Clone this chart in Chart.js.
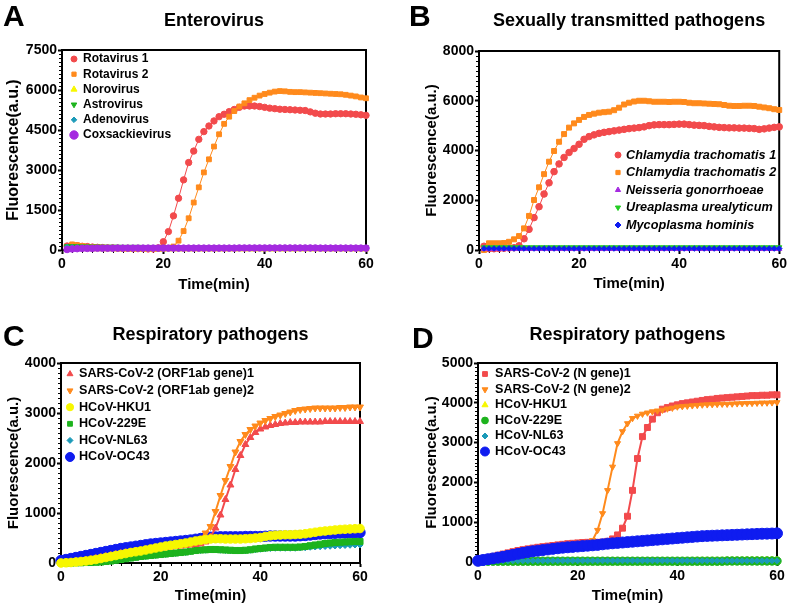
<!DOCTYPE html>
<html><head><meta charset="utf-8">
<script src="https://cdn.jsdelivr.net/npm/chart.js@4.4.1/dist/chart.umd.min.js"></script>
<style>
html,body{margin:0;padding:0;background:#fff;}
#wrap{position:relative;width:789px;height:606px;overflow:hidden;background:#fff;}
canvas{position:absolute;}
.lbl{position:absolute;font:bold 30px 'Liberation Sans',Arial,sans-serif;line-height:30px;color:#000;}
</style></head><body>
<div id="wrap">
<canvas id="cA" width="394" height="303" style="left:0px;top:0px"></canvas>
<canvas id="cB" width="394" height="303" style="left:395px;top:0px"></canvas>
<canvas id="cC" width="394" height="303" style="left:0px;top:303px"></canvas>
<canvas id="cD" width="394" height="303" style="left:395px;top:303px"></canvas>
<div class="lbl" style="left:3px;top:1px">A</div>
<div class="lbl" style="left:409px;top:1px">B</div>
<div class="lbl" style="left:3px;top:321px">C</div>
<div class="lbl" style="left:412px;top:323px">D</div>
</div>
<script>
// ---------- time axes ----------
const time1to60 = [1,2,3,4,5,6,7,8,9,10,11,12,13,14,15,16,17,18,19,20,21,22,23,24,25,26,27,28,29,30,31,32,33,34,35,36,37,38,39,40,41,42,43,44,45,46,47,48,49,50,51,52,53,54,55,56,57,58,59,60];
const time0to60 = [0,1,2,3,4,5,6,7,8,9,10,11,12,13,14,15,16,17,18,19,20,21,22,23,24,25,26,27,28,29,30,31,32,33,34,35,36,37,38,39,40,41,42,43,44,45,46,47,48,49,50,51,52,53,54,55,56,57,58,59,60];
const xTicks = [0, 20, 40, 60];

// ---------- Panel A: Enterovirus ----------
const labelsA = ['Rotavirus 1','Rotavirus 2','Norovirus','Astrovirus','Adenovirus','Coxsackievirus'];
const rotavirus1A = [150,170,160,140,130,110,100,90,80,80, 70,60,60,50,50,50,40,40,80,310, 690,1280,1940,2630,3280,3710,4150,4440,4650,4840, 5000,5090,5190,5270,5350,5400,5400,5400,5380,5350, 5320,5300,5280,5270,5260,5250,5240,5230,5180,5130, 5100,5100,5100,5110,5110,5110,5100,5090,5070,5050];
const rotavirus2A = [50,210,180,150,120,110,100,90,80,70, 60,60,50,50,50,40,40,40,40,50, 70,130,350,710,1190,1780,2350,2910,3400,3880, 4340,4730,5000,5210,5380,5500,5620,5710,5790,5850, 5900,5940,5960,5950,5930,5920,5920,5910,5900,5890, 5880,5870,5860,5850,5840,5820,5790,5760,5720,5690];
const norovirusA = [90,70,50,40,40,35,35,30,30,30, 30,30,30,30,30,30,30,30,30,30, 30,30,30,30,30,30,30,30,30,30, 30,30,30,30,30,30,30,30,30,30, 30,30,30,30,30,30,30,30,30,30, 30,30,30,30,30,30,30,30,30,30];
const astrovirusA = [140,140,135,130,130,125,125,120,120,120, 120,115,115,115,115,110,110,110,110,110, 110,110,105,105,105,105,105,105,105,105, 100,100,100,100,100,100,100,100,100,100, 100,100,100,100,100,100,100,100,100,100, 95,95,95,95,95,95,95,95,95,95];
const adenovirusA = [110,100,95,90,90,85,85,80,80,80, 80,80,75,75,75,75,75,75,75,75, 75,75,70,70,70,70,70,70,70,70, 70,70,70,70,70,70,70,70,70,70, 70,70,70,70,70,70,70,70,70,70, 70,70,70,70,70,70,70,70,70,70];
const coxsackieA = [20,40,50,60,60,60,65,65,65,65, 70,70,70,70,70,70,70,70,70,70, 70,70,70,70,70,70,70,70,70,70, 70,70,70,70,75,75,75,75,75,75, 75,75,75,75,75,75,75,75,75,75, 70,70,70,70,70,70,70,70,70,70];
const yTicksA = [0,1500,3000,4500,6000,7500];

// ---------- Panel B: Sexually transmitted pathogens ----------
const labelsB = ['Chlamydia trachomatis 1','Chlamydia trachomatis 2','Neisseria gonorrhoeae','Ureaplasma urealyticum','Mycoplasma hominis'];
const chlamydia1B = [150,50,50,60,70,80,90,170,450,830, 1300,1740,2250,2700,3150,3460,3720,3920,4080,4250, 4450,4560,4630,4690,4730,4760,4790,4820,4850,4880, 4900,4920,4950,5000,5030,5040,5040,5040,5050,5060, 5060,5040,5020,5010,5000,4970,4950,4930,4920,4910, 4910,4900,4900,4890,4880,4850,4870,4900,4930,4950];
const chlamydia2B = [0,270,270,270,280,330,430,560,870,1370, 2010,2520,3050,3550,3980,4350,4660,4920,5090,5230, 5350,5430,5480,5520,5540,5560,5620,5720,5850,5920, 5970,6000,6000,5980,5960,5960,5960,5950,5960,5960, 5950,5920,5900,5900,5890,5880,5870,5860,5830,5800, 5790,5790,5800,5800,5790,5760,5730,5700,5660,5630];
const neisseriaB = [40,40,40,40,40,40,40,40,40,40, 40,40,40,40,40,40,40,40,40,40, 40,40,40,40,40,40,40,40,40,40, 40,40,40,40,40,40,40,40,40,40, 40,40,40,40,40,40,40,40,40,40, 40,40,40,40,40,40,40,40,40,40];
const ureaplasmaB = [110,110,110,110,110,110,110,110,110,110, 110,110,110,110,110,110,110,110,110,110, 110,110,110,110,110,110,110,110,110,110, 110,110,110,110,110,110,110,110,110,110, 110,110,110,110,110,110,110,110,110,110, 110,110,110,110,110,110,110,110,110,110];
const mycoplasmaB = [60,60,60,60,60,60,60,60,60,60, 60,60,60,60,60,60,60,60,60,60, 60,60,60,60,60,60,60,60,60,60, 60,60,60,60,60,60,60,60,60,60, 60,60,60,60,60,60,60,60,60,60, 60,60,60,60,60,60,60,60,60,60];
const yTicksB = [0,2000,4000,6000,8000];

// ---------- Panel C: Respiratory pathogens (ORF1ab) ----------
const labelsC = ['SARS-CoV-2 (ORF1ab gene)1','SARS-CoV-2 (ORF1ab gene)2','HCoV-HKU1','HCoV-229E','HCoV-NL63','HCoV-OC43'];
const orf1C = [0,10,20,30,40,55,70,90,110,130, 150,170,190,205,220,235,250,265,280,290, 300,310,320,330,340,350,360,370,385,420, 520,700,960,1270,1560,1870,2150,2370,2510,2610, 2680,2720,2750,2770,2790,2800,2810,2810,2820,2820, 2820,2820,2820,2830,2830,2830,2830,2830,2830,2830, 2830];
const orf2C = [0,10,20,30,40,55,70,90,110,130, 150,170,190,210,225,240,255,270,285,300, 315,330,345,360,375,390,410,430,480,600, 730,1030,1350,1650,1930,2220,2430,2570,2670,2740, 2800,2850,2890,2930,2960,2990,3020,3050,3070,3080, 3090,3100,3100,3100,3100,3100,3110,3110,3120,3120, 3120];
const hku1C = [0,5,10,20,30,40,55,70,90,110, 130,150,170,190,210,225,240,260,280,300, 320,340,355,370,385,400,420,440,455,470, 480,485,485,480,480,480,480,485,490,500, 510,530,545,555,560,565,565,570,575,585, 600,615,630,640,650,660,670,675,680,685, 690];
const e229C = [0,0,0,5,5,10,10,15,20,30, 40,55,70,85,100,115,130,140,150,160, 170,180,190,200,210,220,235,250,260,265, 270,270,265,260,255,250,250,255,265,280, 290,300,310,315,315,315,315,315,320,330, 345,360,375,390,400,410,415,420,425,430, 430];
const nl63C = [0,0,0,5,5,10,10,15,20,25, 35,50,65,80,95,110,120,130,140,150, 160,170,180,190,200,210,225,240,250,255, 260,260,255,250,245,240,240,245,255,265, 275,285,290,295,295,295,295,295,300,305, 315,320,325,330,335,340,345,350,355,360, 360];
const oc43C = [50,70,90,110,130,150,170,190,210,230, 250,270,290,305,320,335,350,365,380,390, 400,410,420,430,440,450,460,475,490,505, 515,520,525,525,525,525,525,530,530,530, 530,535,540,540,540,540,540,540,545,550, 560,570,580,585,590,595,600,600,605,605, 610];
const yTicksC = [0,1000,2000,3000,4000];

// ---------- Panel D: Respiratory pathogens (N gene) ----------
const labelsD = ['SARS-CoV-2 (N gene)1','SARS-CoV-2 (N gene)2','HCoV-HKU1','HCoV-229E','HCoV-NL63','HCoV-OC43'];
const n1D = [50,80,110,140,170,200,230,260,290,310, 330,350,370,385,400,415,430,445,460,470, 480,490,495,495,495,500,520,580,680,850, 1150,1800,2600,3150,3380,3590,3750,3840,3880,3920, 3950,3980,4000,4020,4040,4060,4080,4090,4110,4120, 4130,4140,4150,4160,4170,4180,4180,4190,4190,4200, 4200];
const n2D = [0,20,40,60,80,100,125,150,175,200, 225,245,265,285,300,315,330,345,360,370, 380,390,420,545,800,1220,1800,2390,2980,3280, 3480,3610,3670,3720,3750,3780,3800,3820,3850,3870, 3900,3910,3920,3930,3940,3950,3955,3960,3965,3970, 3970,3975,3980,3985,3990,3990,3995,4000,4000,4005, 4010];
const hku1D = [30,30,35,35,35,40,40,40,40,40, 40,40,40,40,40,40,40,40,40,40, 40,40,40,40,40,40,40,40,40,40, 40,40,40,40,40,40,40,40,40,40, 40,40,40,40,45,45,45,45,45,45, 50,50,50,50,55,55,55,55,60,60, 60];
const e229D = [20,20,20,20,20,20,20,20,20,20, 20,20,20,20,20,20,20,20,20,20, 20,20,20,20,20,20,20,20,20,20, 20,20,20,20,20,20,20,20,20,20, 20,20,20,20,20,20,20,20,20,20, 25,25,25,25,25,25,25,25,25,25, 25];
const nl63D = [30,30,30,30,30,30,30,30,30,30, 30,30,30,30,30,30,30,30,30,30, 30,30,30,30,30,30,30,30,30,30, 30,30,30,30,30,30,30,30,30,30, 30,30,30,30,30,30,30,30,30,30, 30,30,30,30,30,30,30,30,30,30, 30];
const oc43D = [30,50,70,90,110,130,155,180,205,230, 250,270,285,300,315,330,345,360,370,380, 390,400,410,420,430,445,460,470,480,490, 500,510,520,530,540,550,560,570,580,590, 600,610,620,630,640,650,655,660,665,670, 675,680,685,690,695,700,705,710,712,715, 720];
const yTicksD = [0,1000,2000,3000,4000,5000];

// ---------- colours ----------
const RED='#f24a4c', ORANGE='#ff8a1c', YELLOW='#f7f700', GREEN='#1db31d', LGREEN='#22cc22', TEAL='#1b9ab8', PURPLE='#a52ae0', BLUE='#0f1cf0';
const FF = "'Liberation Sans', Arial, Helvetica, sans-serif";

// ---------- plugins ----------
const framePlugin = {
  id: 'frame',
  beforeDatasetsDraw(chart, args, opts) {
    const ctx = chart.ctx, ca = chart.chartArea;
    ctx.save();
    ctx.strokeStyle = '#000';
    ctx.lineWidth = 2;
    ctx.strokeRect(ca.left, ca.top, ca.right - ca.left, ca.bottom - ca.top);
    // minor ticks
    ctx.lineWidth = 1;
    const xs = chart.scales.x, ys = chart.scales.y;
    ctx.beginPath();
    for (let v = xs.min; v <= xs.max + 1e-9; v += opts.xMinor) {
      if (Math.abs(v % opts.xMajor) < 1e-9) continue;
      const px = Math.round(xs.getPixelForValue(v)) + 0.5;
      ctx.moveTo(px, ca.bottom); ctx.lineTo(px, ca.bottom + 3);
    }
    for (let v = ys.min; v <= ys.max + 1e-9; v += opts.yMinor) {
      if (Math.abs(v % opts.yMajor) < 1e-9) continue;
      const py = Math.round(ys.getPixelForValue(v)) + 0.5;
      ctx.moveTo(ca.left, py); ctx.lineTo(ca.left - 3, py);
    }
    ctx.stroke();
    ctx.restore();
  }
};
const legendPlugin = {
  id: 'inLegend',
  afterDraw(chart, args, opts) {
    const ctx = chart.ctx;
    ctx.save();
    ctx.textBaseline = 'middle';
    ctx.textAlign = 'left';
    chart.data.datasets.forEach((ds, i) => {
      const y = opts.y0 + i * opts.dy;
      ctx.fillStyle = ds.backgroundColor;
      ctx.strokeStyle = ds.borderColor;
      ctx.lineWidth = 1;
      Chart.helpers.drawPoint(ctx, {pointStyle: ds.pointStyle, radius: ds.legendR, rotation: ds.pointRotation || 0, borderWidth: 1}, opts.mx, y);
      ctx.fillStyle = '#000';
      ctx.font = opts.font;
      ctx.fillText(ds.label, opts.tx, y);
    });
    ctx.restore();
  }
};

function makePanel(id, p) {
  const datasets = p.series.map((s, i) => ({
    label: s.label,
    data: p.time.map((t, j) => ({x: t, y: s.values[j]})),
    borderColor: s.color,
    backgroundColor: s.color,
    pointStyle: s.style,
    pointRadius: s.r,
    pointRotation: s.rot || 0,
    pointBorderWidth: 1,
    borderWidth: s.lw,
    legendR: s.lr,
    showLine: true,
    tension: 0,
    clip: false,
    order: (s.order !== undefined) ? s.order : -i
  }));
  const tickFont = {family: FF, size: 14, weight: 'bold'};
  const ytk = p.yTicks;
  return new Chart(document.getElementById(id), {
    type: 'scatter',
    data: {datasets},
    options: {
      responsive: false,
      animation: false,
      events: [],
      layout: {padding: p.pad},
      plugins: {
        legend: {display: false},
        tooltip: {enabled: false},
        title: {display: true, text: p.title, fullSize: false, color: '#000',
          font: {family: FF, size: 18, weight: 'bold', lineHeight: 1.2},
          padding: {top: p.tTop, bottom: p.tBot}},
        inLegend: p.legend,
        frame: {xMinor: 2, xMajor: 20, yMinor: p.yMinor, yMajor: ytk[1] - ytk[0]}
      },
      scales: {
        x: {
          type: 'linear', min: 0, max: 60,
          afterBuildTicks: s => { s.ticks = xTicks.map(v => ({value: v})); },
          ticks: {font: tickFont, color: '#000', padding: 2, maxRotation: 0, autoSkip: false, callback: v => String(v)},
          grid: {drawOnChartArea: false, drawTicks: true, tickLength: 4, tickWidth: 2, tickColor: '#000'},
          border: {display: true, color: '#000', width: 2},
          title: {display: true, text: 'Time(min)', color: '#000', font: {family: FF, size: 15, weight: 'bold', lineHeight: 1.2}, padding: {top: 0, bottom: 0}},
          afterFit: s => { s.height = p.xH; }
        },
        y: {
          type: 'linear', min: ytk[0], max: ytk[ytk.length - 1],
          afterBuildTicks: s => { s.ticks = ytk.map(v => ({value: v})); },
          ticks: {font: tickFont, color: '#000', padding: 1, autoSkip: false, callback: v => String(v)},
          grid: {drawOnChartArea: false, drawTicks: true, tickLength: 4, tickWidth: 2, tickColor: '#000'},
          border: {display: true, color: '#000', width: 2},
          title: {display: true, text: 'Fluorescence(a.u.)', color: '#000', font: {family: FF, size: p.yTitleSize, weight: 'bold', lineHeight: 1.2}, padding: {top: p.yTitlePad, bottom: 0}},
          afterFit: s => { s.width = p.yW; }
        }
      }
    },
    plugins: [framePlugin, legendPlugin]
  });
}

makePanel('cA', {
  title: 'Enterovirus', time: time1to60, yTicks: yTicksA, yMinor: 150,
  pad: {left: 0, right: 28, top: 0, bottom: 9}, yW: 62, xH: 44, tTop: 10.2, tBot: 18.2,
  yTitleSize: 16, yTitlePad: 4.4,
  legend: {mx: 74, tx: 83, y0: 59, dy: 15.2, font: "bold 12px " + FF},
  series: [
    {label: labelsA[0], values: rotavirus1A, color: RED, style: 'circle', r: 3.2, lr: 3, lw: 1},
    {label: labelsA[1], values: rotavirus2A, color: ORANGE, style: 'rect', r: 3.4, lr: 3, lw: 1},
    {label: labelsA[2], values: norovirusA, color: YELLOW, style: 'triangle', r: 3.4, lr: 3.5, lw: 1},
    {label: labelsA[3], values: astrovirusA, color: GREEN, style: 'triangle', rot: 180, r: 3.2, lr: 3.2, lw: 1},
    {label: labelsA[4], values: adenovirusA, color: TEAL, style: 'rectRot', r: 2.8, lr: 2.8, lw: 1},
    {label: labelsA[5], values: coxsackieA, color: PURPLE, style: 'circle', r: 3.3, lr: 4.2, lw: 1}
  ]
});

makePanel('cB', {
  title: 'Sexually transmitted pathogens', time: time1to60, yTicks: yTicksB, yMinor: 200,
  pad: {left: 24, right: 8, top: 0, bottom: 10}, yW: 60, xH: 43, tTop: 10.2, tBot: 19.2,
  yTitleSize: 15, yTitlePad: 4,
  legend: {mx: 223, tx: 231, y0: 155, dy: 17.5, font: "italic bold 12.7px " + FF},
  series: [
    {label: labelsB[0], values: chlamydia1B, color: RED, style: 'circle', r: 3.3, lr: 3, lw: 1},
    {label: labelsB[1], values: chlamydia2B, color: ORANGE, style: 'rect', r: 3.5, lr: 3, lw: 1},
    {label: labelsB[2], values: neisseriaB, color: PURPLE, style: 'triangle', r: 3, lr: 3, lw: 1},
    {label: labelsB[3], values: ureaplasmaB, color: LGREEN, style: 'triangle', rot: 180, r: 3, lr: 3, lw: 1},
    {label: labelsB[4], values: mycoplasmaB, color: BLUE, style: 'rectRot', r: 2.8, lr: 3, lw: 1}
  ]
});

makePanel('cC', {
  title: 'Respiratory pathogens', time: time0to60, yTicks: yTicksC, yMinor: 100,
  pad: {left: 0, right: 34, top: 0, bottom: 1.5}, yW: 61, xH: 41.5, tTop: 21.2, tBot: 17.2,
  yTitleSize: 15, yTitlePad: 5,
  legend: {mx: 70, tx: 79, y0: 71, dy: 16.6, font: "bold 12.6px " + FF},
  series: [
    {label: labelsC[0], values: orf1C, color: RED, style: 'triangle', r: 4, lr: 3.4, lw: 2, order: 3},
    {label: labelsC[1], values: orf2C, color: ORANGE, style: 'triangle', rot: 180, r: 4, lr: 3.4, lw: 2, order: 2.5},
    {label: labelsC[2], values: hku1C, color: YELLOW, style: 'circle', r: 4.3, lr: 3.6, lw: 2, order: 2},
    {label: labelsC[3], values: e229C, color: GREEN, style: 'rect', r: 4.3, lr: 3.4, lw: 2, order: 4},
    {label: labelsC[4], values: nl63C, color: TEAL, style: 'rectRot', r: 3, lr: 3, lw: 2, order: 5},
    {label: labelsC[5], values: oc43C, color: BLUE, style: 'circle', r: 5.2, lr: 4.5, lw: 2, order: 6}
  ]
});

makePanel('cD', {
  title: 'Respiratory pathogens', time: time0to60, yTicks: yTicksD, yMinor: 100,
  pad: {left: 24, right: 12, top: 0, bottom: 1.5}, yW: 59, xH: 42.5, tTop: 21.2, tBot: 17.2,
  yTitleSize: 15, yTitlePad: 4,
  legend: {mx: 90, tx: 100, y0: 71, dy: 15.5, font: "bold 12.6px " + FF},
  series: [
    {label: labelsD[0], values: n1D, color: RED, style: 'rect', r: 4.2, lr: 3.4, lw: 2},
    {label: labelsD[1], values: n2D, color: ORANGE, style: 'triangle', rot: 180, r: 3.5, lr: 3.4, lw: 2},
    {label: labelsD[2], values: hku1D, color: YELLOW, style: 'triangle', r: 3.5, lr: 3.5, lw: 2},
    {label: labelsD[3], values: e229D, color: GREEN, style: 'circle', r: 4.2, lr: 3.4, lw: 2},
    {label: labelsD[4], values: nl63D, color: TEAL, style: 'rectRot', r: 3, lr: 3, lw: 2},
    {label: labelsD[5], values: oc43D, color: BLUE, style: 'circle', r: 5.5, lr: 4.5, lw: 2}
  ]
});
</script>
</body></html>
